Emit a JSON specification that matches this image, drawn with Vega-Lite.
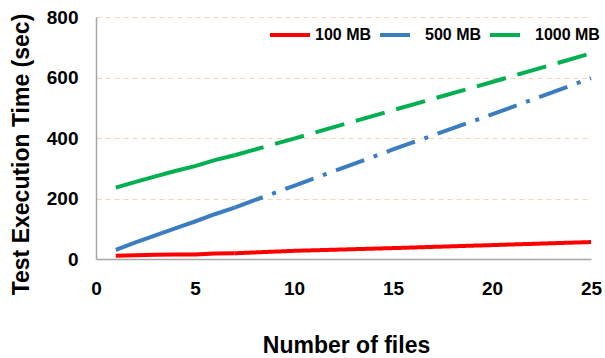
{
  "$schema": "https://vega.github.io/schema/vega-lite/v6.json",
  "width": 495,
  "height": 242,
  "autosize": {"type": "none"},
  "padding": {"left": 96, "top": 17, "right": 14, "bottom": 99},
  "background": "white",
  "config": {"view": {"stroke": null}, "font": "Liberation Sans"},
  "data": {
    "values": [
      {"files": 1, "size": "100 MB", "time": 11},
      {"files": 2, "size": "100 MB", "time": 12},
      {"files": 3, "size": "100 MB", "time": 14},
      {"files": 4, "size": "100 MB", "time": 15},
      {"files": 5, "size": "100 MB", "time": 15},
      {"files": 6, "size": "100 MB", "time": 18},
      {"files": 7, "size": "100 MB", "time": 19},
      {"files": 10, "size": "100 MB", "time": 27},
      {"files": 15, "size": "100 MB", "time": 36},
      {"files": 20, "size": "100 MB", "time": 46},
      {"files": 25, "size": "100 MB", "time": 56},
      {"files": 1, "size": "500 MB", "time": 30},
      {"files": 2, "size": "500 MB", "time": 55},
      {"files": 3, "size": "500 MB", "time": 78},
      {"files": 4, "size": "500 MB", "time": 101},
      {"files": 5, "size": "500 MB", "time": 124},
      {"files": 6, "size": "500 MB", "time": 148},
      {"files": 7, "size": "500 MB", "time": 170},
      {"files": 10, "size": "500 MB", "time": 242},
      {"files": 15, "size": "500 MB", "time": 362},
      {"files": 20, "size": "500 MB", "time": 478},
      {"files": 25, "size": "500 MB", "time": 598},
      {"files": 1, "size": "1000 MB", "time": 236},
      {"files": 2, "size": "1000 MB", "time": 255},
      {"files": 3, "size": "1000 MB", "time": 273},
      {"files": 4, "size": "1000 MB", "time": 291},
      {"files": 5, "size": "1000 MB", "time": 307},
      {"files": 6, "size": "1000 MB", "time": 327},
      {"files": 7, "size": "1000 MB", "time": 343},
      {"files": 10, "size": "1000 MB", "time": 398},
      {"files": 15, "size": "1000 MB", "time": 492},
      {"files": 20, "size": "1000 MB", "time": 585},
      {"files": 25, "size": "1000 MB", "time": 680}
    ]
  },
  "encoding": {
    "x": {
      "field": "files", "type": "quantitative",
      "scale": {"domain": [0, 25]},
      "axis": {
        "values": [0, 5, 10, 15, 20, 25],
        "title": "Number of files",
        "grid": false, "ticks": false,
        "domainColor": "#a6a6a6", "domainWidth": 1.5,
        "labelFont": "Liberation Sans", "labelFontSize": 19, "labelFontWeight": "bold",
        "labelColor": "black", "labelPadding": 20, "labelFlush": false,
        "titleFont": "Liberation Sans", "titleFontSize": 23, "titleFontWeight": "bold", "titleColor": "black",
        "titleX": 250, "titleY": 93, "titleBaseline": "alphabetic", "titleAlign": "center"
      }
    },
    "y": {
      "field": "time", "type": "quantitative",
      "scale": {"domain": [0, 800]},
      "axis": {
        "values": [0, 200, 400, 600, 800],
        "title": "Test Execution Time (sec)",
        "grid": true, "gridDash": [5, 4], "gridColor": "#f9d3b5", "gridWidth": 1,
        "ticks": false,
        "domainColor": "#a6a6a6", "domainWidth": 1.5,
        "labelFont": "Liberation Sans", "labelFontSize": 19, "labelFontWeight": "bold",
        "labelColor": "black", "labelPadding": 18, "labelFlush": false,
        "titleFont": "Liberation Sans", "titleFontSize": 23, "titleFontWeight": "bold", "titleColor": "black",
        "titleX": -68, "titleY": 137, "titleAngle": 270, "titleBaseline": "alphabetic", "titleAlign": "center"
      }
    },
    "color": {
      "field": "size", "type": "nominal",
      "scale": {"domain": ["100 MB", "500 MB", "1000 MB"], "range": ["#ff0000", "#3c7dc0", "#00b050"]},
      "legend": {
        "orient": "none", "legendX": 172, "legendY": -4, "direction": "horizontal", "title": null,
        "symbolType": "stroke", "symbolSize": 1600, "symbolStrokeWidth": 4,
        "labelFont": "Liberation Sans", "labelFontSize": 16, "labelFontWeight": "bold", "labelColor": "black",
        "labelOffset": 3, "columnPadding": 0, "gridAlign": "none"
      }
    }
  },
  "layer": [
    {
      "transform": [{"filter": "datum.files <= 7"}],
      "mark": {"type": "line", "strokeWidth": 4, "strokeCap": "butt"}
    },
    {
      "transform": [{"filter": "datum.files >= 7"}],
      "mark": {"type": "line", "strokeWidth": 4, "strokeCap": "butt"},
      "encoding": {
        "strokeDash": {
          "field": "size", "type": "nominal",
          "scale": {"domain": ["100 MB", "500 MB", "1000 MB"], "range": [[1, 0], [30, 10, 4, 10], [30, 12]]},
          "legend": {
            "orient": "none", "legendX": 172, "legendY": -4, "direction": "horizontal", "title": null,
            "symbolType": "stroke", "symbolSize": 1600, "symbolStrokeWidth": 4,
            "labelFont": "Liberation Sans", "labelFontSize": 16, "labelFontWeight": "bold", "labelColor": "black",
            "labelOffset": 3, "columnPadding": 0, "gridAlign": "none"
          }
        }
      }
    }
  ]
}
